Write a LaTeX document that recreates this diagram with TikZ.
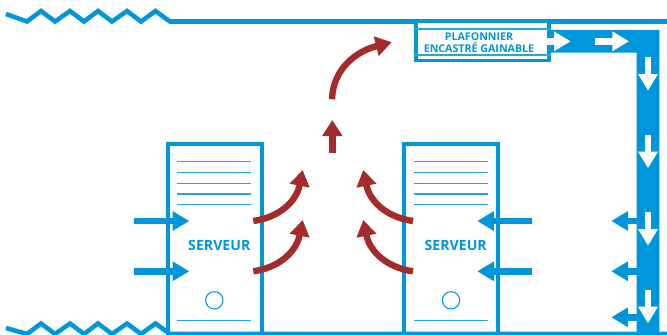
\documentclass[tikz,border=0pt]{standalone}
\usepackage{fontspec}
\setmainfont{Open Sans}
\usetikzlibrary{arrows.meta}
\definecolor{airblue}{RGB}{0,150,219}
\definecolor{hotred}{RGB}{165,42,42}
\tikzset{
    wall/.style={draw=airblue, line width=3.4pt, miter limit=10},
    server/.style={draw=airblue, line width=3pt, minimum width=70.5pt, minimum height=142.5pt, inner sep=0pt},
    slot/.style={draw=airblue!85, line width=0.8pt},
    led/.style={draw=airblue, line width=0.8pt, circle, minimum size=13pt, inner sep=0pt},
    caption/.style={text=airblue, font=\fontsize{10.6}{12}\selectfont\bfseries, inner sep=0pt},
    unit/.style={draw=airblue, fill=white, line width=2.6pt, minimum width=99.75pt, minimum height=29.6pt, inner sep=0pt},
    coldflow/.style={draw=airblue, line width=5pt, -{Triangle[width=14pt,length=12.5pt]}},
    ductflow/.style={draw=white, line width=5pt, -{Triangle[width=14pt,length=12.5pt]}},
    hotflow/.style={draw=hotred, line width=4.8pt, -{Triangle[width=14.5pt,length=12pt]}}
}
\begin{document}
\begin{tikzpicture}[x=0.75pt, y=-0.75pt]
    \useasboundingbox (0,0) rectangle (667,335);
    \draw[wall] (6,14) -- (27,21.5) -- (41,11) -- (55,21.5) -- (70,11) -- (84,21.5) -- (98,11) -- (112,21.5) -- (127,11) -- (141,21.5) -- (155.5,11) -- (170,21.5) -- (667,21.5);
    \draw[wall] (6,328) -- (27,334) -- (41,323.5) -- (55,334) -- (70,323.5) -- (84,334) -- (98,323.5) -- (112,334) -- (127,323.5) -- (141,334) -- (155.5,323.5) -- (170,334) -- (667,334);
    \fill[airblue] (545,30) -- (659.3,30) -- (659.3,335) -- (636.7,335) -- (636.7,52.7) -- (545,52.7) -- cycle;

    \node[unit] (PF) at (482.5,41) {};
    \draw[slot] (PF.west |- 0,29) -- (PF.east |- 0,29);
    \draw[slot] (PF.west |- 0,55) -- (PF.east |- 0,55);
    \node[caption, font=\fontsize{8}{9}\selectfont\bfseries, align=center] (PFtext) at (479,43) {PLAFONNIER\\[0pt]ENCASTRÉ GAINABLE};

    \node[server] (SL) at (214.5,239) {};
    \node[server] (SR) at (451,239) {};
    \foreach \s/\a/\b in {SL/177/251, SR/413.7/487.7} {
        \foreach \y in {161.7,172.7,183.3,194,204.7,320.3} {
            \draw[slot] (\a,\y) -- (\b,\y);
        }
    }
    \node[led] (LL) at (214.3,300.3) {};
    \node[led] (LR) at (451,300.3) {};
    \node[caption] (TL) at (219.3,245) {SERVEUR};
    \node[caption] (TR) at (455.7,245) {SERVEUR};

    \coordinate (A1) at (134.3,221);
    \coordinate (A2) at (189.3,221);
    \coordinate (B1) at (134.3,271.3);
    \coordinate (B2) at (189.3,271.3);
    \coordinate (C1) at (532.3,221);
    \coordinate (C2) at (477.3,221);
    \coordinate (D1) at (532.3,271.3);
    \coordinate (D2) at (477.3,271.3);
    \coordinate (E1) at (640,221);
    \coordinate (E2) at (611.3,221);
    \coordinate (F1) at (640,271.3);
    \coordinate (F2) at (611.3,271.3);
    \coordinate (G1) at (640,317.3);
    \coordinate (G2) at (611.3,317.3);
    \foreach \p/\q in {A1/A2, B1/B2, C1/C2, D1/D2, E1/E2, F1/F2, G1/G2} {
        \path[coldflow] (\p) -- (\q);
    }

    \coordinate (H1) at (547,41.3);
    \coordinate (H2) at (570.7,41.3);
    \coordinate (I1) at (595.3,41.3);
    \coordinate (I2) at (629,41.3);
    \coordinate (J1) at (648,57.3);
    \coordinate (J2) at (648,90.7);
    \coordinate (K1) at (648,135);
    \coordinate (K2) at (648,168.3);
    \coordinate (L1) at (648,212.3);
    \coordinate (L2) at (648,245.7);
    \coordinate (M1) at (648,290);
    \coordinate (M2) at (648,323.3);
    \foreach \p/\q in {H1/H2, I1/I2, J1/J2, K1/K2, L1/L2, M1/M2} {
        \path[ductflow] (\p) -- (\q);
    }

    \coordinate (N1) at (253.3,221);
    \coordinate (N2) at (302.7,170);
    \coordinate (O1) at (253.3,271.3);
    \coordinate (O2) at (302.7,220);
    \coordinate (Q1) at (413,221);
    \coordinate (Q2) at (363.3,170);
    \coordinate (R1) at (413,271.3);
    \coordinate (R2) at (363.3,220);
    \coordinate (U1) at (332.3,153.3);
    \coordinate (U2) at (332.3,120);
    \coordinate (V1) at (332,99.3);
    \coordinate (V2) at (391.7,42.3);
    \path[hotflow] (N1) .. controls +(28,-4) and +(-6,30) .. (N2);
    \path[hotflow] (O1) .. controls +(28,-4) and +(-6,30) .. (O2);
    \path[hotflow] (Q1) .. controls +(-28,-4) and +(6,30) .. (Q2);
    \path[hotflow] (R1) .. controls +(-28,-4) and +(6,30) .. (R2);
    \path[hotflow] (U1) -- (U2);
    \path[hotflow] (V1) .. controls +(1,-30) and +(-36,9) .. (V2);
\end{tikzpicture}
\end{document}
